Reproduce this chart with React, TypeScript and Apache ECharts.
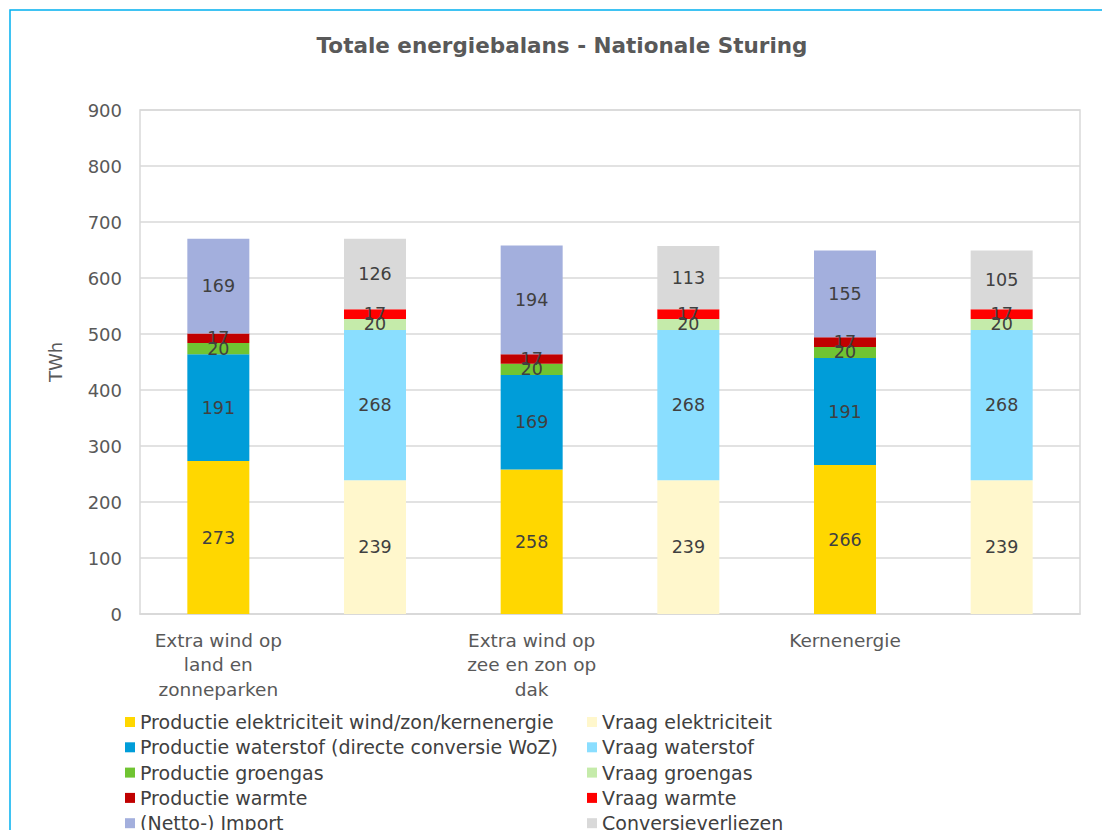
import React, { useEffect, useRef } from "react";
import * as echarts from "echarts";

const scenarioLabels = ["Extra wind op\nland en\nzonneparken", "Extra wind op\nzee en zon op\ndak", "Kernenergie"];
const barKinds = ["Productie", "Vraag"];

const prodElektriciteit = [273, 258, 266];
const prodWaterstof = [191, 169, 191];
const prodGroengas = [20, 20, 20];
const prodWarmte = [17, 17, 17];
const nettoImport = [169, 194, 155];

const vraagElektriciteit = [239, 239, 239];
const vraagWaterstof = [268, 268, 268];
const vraagGroengas = [20, 20, 20];
const vraagWarmte = [17, 17, 17];
const conversieverliezen = [126, 113, 105];

const yTicks = { min: 0, max: 900, interval: 100 };

const FONT = "'DejaVu Sans', Verdana, sans-serif";

const categories: string[] = [];
scenarioLabels.forEach((s, i) => barKinds.forEach((k) => categories.push(`${i}|${k}`)));

const toProd = (vals: number[]) => vals.flatMap((v) => [v, null]);
const toVraag = (vals: number[]) => vals.flatMap((v) => [null, v]);

const seriesDefs = [
  { name: "Productie elektriciteit wind/zon/kernenergie", data: toProd(prodElektriciteit), color: "#FFD700" },
  { name: "Productie waterstof (directe conversie WoZ)", data: toProd(prodWaterstof), color: "#009DD9" },
  { name: "Productie groengas", data: toProd(prodGroengas), color: "#70C432" },
  { name: "Productie warmte", data: toProd(prodWarmte), color: "#C00000" },
  { name: "(Netto-) Import", data: toProd(nettoImport), color: "#A3AFDD" },
  { name: "Vraag elektriciteit", data: toVraag(vraagElektriciteit), color: "#FFF7CC" },
  { name: "Vraag waterstof", data: toVraag(vraagWaterstof), color: "#8ADEFF" },
  { name: "Vraag groengas", data: toVraag(vraagGroengas), color: "#C5EBAA" },
  { name: "Vraag warmte", data: toVraag(vraagWarmte), color: "#FF0000" },
  { name: "Conversieverliezen", data: toVraag(conversieverliezen), color: "#D9D9D9" },
];

export default function App() {
  const ref = useRef<HTMLDivElement>(null);
  useEffect(() => {
    if (!ref.current) return;
    const chart = echarts.init(ref.current, undefined, { renderer: "svg" });
    const legendCommon = {
      orient: "vertical" as const,
      icon: "rect",
      itemWidth: 10,
      itemHeight: 10,
      itemGap: 3.3,
      top: 711,
      height: 200,
      padding: 0,
      textStyle: { fontFamily: FONT, fontSize: 19, color: "#404040", lineHeight: 22 },
      selectedMode: false,
    };
    chart.setOption({
      animation: false,
      backgroundColor: "#ffffff",
      textStyle: { fontFamily: FONT },
      graphic: [
        {
          type: "rect",
          shape: { x: 10, y: 10, width: 1200, height: 1000 },
          style: { fill: "none", stroke: "#00B0F0", lineWidth: 1.5 },
          silent: true,
        },
        {
          type: "text",
          x: 562,
          y: 45,
          style: {
            text: "Totale energiebalans - Nationale Sturing",
            fontFamily: FONT,
            fontSize: 21.5,
            fontWeight: "bold",
            fill: "#595959",
            textAlign: "center",
            textVerticalAlign: "middle",
          },
        },
      ],
      legend: [
        { ...legendCommon, left: 125, data: seriesDefs.slice(0, 5).map((s) => s.name) },
        { ...legendCommon, left: 587, data: seriesDefs.slice(5).map((s) => s.name) },
      ],
      grid: {
        left: 140,
        right: 22,
        top: 110,
        bottom: 216,
        show: true,
        borderColor: "#D9D9D9",
        borderWidth: 1.5,
      },
      xAxis: {
        type: "category",
        data: categories,
        axisTick: { show: false },
        axisLine: { lineStyle: { color: "#D9D9D9", width: 1.5 } },
        axisLabel: {
          interval: 0,
          margin: 14,
          fontFamily: FONT,
          fontSize: 18.5,
          color: "#595959",
          lineHeight: 24.5,
          formatter: (v: string) => {
            const [i, k] = v.split("|");
            return k === barKinds[0] ? scenarioLabels[Number(i)] : "";
          },
        },
      },
      yAxis: {
        type: "value",
        min: yTicks.min,
        max: yTicks.max,
        interval: yTicks.interval,
        name: "TWh",
        nameLocation: "middle",
        nameGap: 76,
        nameRotate: 90,
        nameTextStyle: { fontFamily: FONT, fontSize: 18, color: "#595959" },
        axisLine: { show: false },
        axisTick: { show: false },
        axisLabel: { margin: 18, fontFamily: FONT, fontSize: 18, color: "#595959" },
        splitLine: { lineStyle: { color: "#D9D9D9", width: 1.5 } },
      },
      series: seriesDefs.map((s) => ({
        name: s.name,
        type: "bar",
        stack: "total",
        barWidth: 62,
        data: s.data,
        itemStyle: { color: s.color },
        label: {
          show: true,
          position: "inside",
          fontFamily: FONT,
          fontSize: 17.5,
          color: "#404040",
          formatter: (p: any) => (p.value == null ? "" : String(p.value)),
        },
      })),
    });
    return () => chart.dispose();
  }, []);
  return (
    <div
      ref={ref}
      style={{ position: "fixed", left: 0, top: 0, width: 1102, height: 830 }}
    />
  );
}
